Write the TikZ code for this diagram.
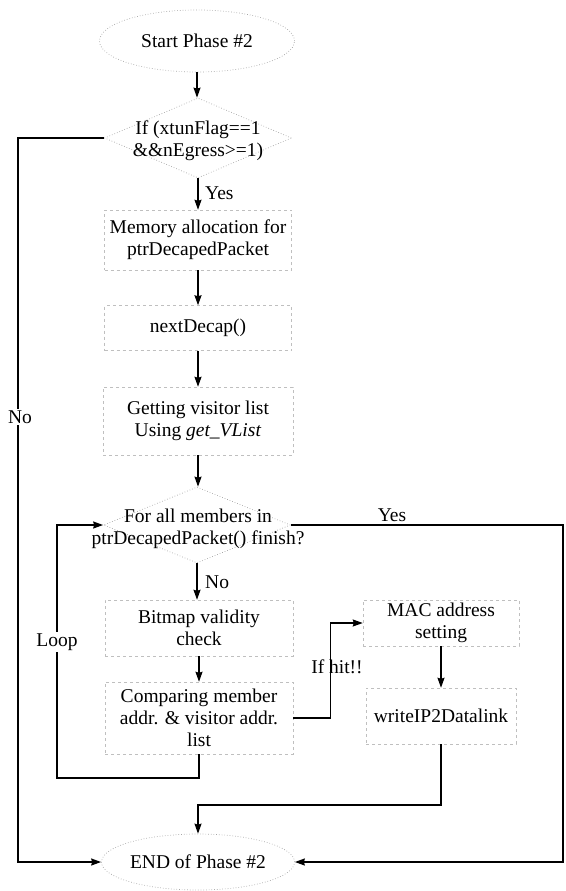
\documentclass[tikz,border=0pt]{standalone}
\usepackage{fontspec}
\setmainfont{Liberation Serif}
\usetikzlibrary{shapes.geometric,arrows.meta,calc}
\begin{document}
\begin{tikzpicture}[x=1pt,y=-1pt,
  every node/.style={font=\fontsize{19.5}{22}\selectfont, align=center, inner sep=0pt},
  term/.style={ellipse, draw=black!35, dotted, line width=0.7pt},
  dec/.style={diamond, draw=black!35, dotted, line width=0.7pt},
  box/.style={rectangle, draw=black!25, dashed, line width=0.5pt},
  conn/.style={line width=1.4pt, -{Stealth[length=10pt,width=7pt,inset=1pt]}},
  lbl/.style={fill=white, inner sep=2pt}
]
\useasboundingbox (0,0) rectangle (565,891);

\node[term, minimum width=195pt, minimum height=62pt] (start) at (197,41) {Start Phase \#2};
\node[dec, minimum width=187pt, minimum height=80pt] (d1) at (198,138) {};
\node (d1t) at (198,141) {If (xtunFlag==1\\\&\&nEgress>=1)};
\node[box, minimum width=187pt, minimum height=60pt] (mem) at (198,240) {Memory allocation for\\ptrDecapedPacket};
\node[box, minimum width=187pt, minimum height=45pt] (next) at (198,328) {nextDecap()};
\node[box, minimum width=190pt, minimum height=68pt] (getv) at (198,421) {Getting visitor list\\Using \textit{get\_VList}};
\node[dec, minimum width=187pt, minimum height=76pt] (d2) at (197,525) {};
\node (d2t) at (198,529) {For all members in\\ptrDecapedPacket() finish?};
\node[box, minimum width=188pt, minimum height=56pt] (bmp) at (199,628) {Bitmap validity\\check};
\node[box, minimum width=188pt, minimum height=72pt] (cmp) at (199,718) {Comparing member\\addr. \& visitor addr.\\list};
\node[box, minimum width=156pt, minimum height=46pt] (mac) at (441,623) {MAC address\\setting};
\node[box, minimum width=150pt, minimum height=56pt] (wr) at (441,716) {writeIP2Datalink};
\node[term, minimum width=193pt, minimum height=56pt] (end) at (198,862) {END of Phase \#2};

% main flow
\draw[conn] (start.south) -- (start.south |- d1.north);
\draw[conn] (d1.south) -- (d1.south |- mem.north);
\node[anchor=west] (yes1) at (205,193) {Yes};
\draw[conn] (mem.south) -- (mem.south |- next.north);
\draw[conn] (next.south) -- (next.south |- getv.north);
\draw[conn] (getv.south) -- (getv.south |- d2.north);
\draw[conn] (d2.south) -- (d2.south |- bmp.north);
\node[anchor=west] (no2) at (205,582) {No};
\draw[conn] (bmp.south) -- (bmp.south |- cmp.north);

% if hit
\draw[conn] (cmp.east) -- ++(37,0) |- (mac.west);
\node (hit) at (337,667) {If hit!!};
\draw[conn] (mac.south) -- (wr.north);

% loop back
\coordinate (lp) at (57,778);
\draw[conn] (cmp.south) |- (lp) |- (d2.west);
\node[lbl] (loop) at (57,642) {Loop};

% No branch of first decision
\coordinate (nl) at (18,862);
\draw[conn] (d1.west) -| (nl) -- (end.west);
\node[lbl] (no1) at (20,417) {No};

% Yes branch of loop decision
\coordinate (yr) at (563,862);
\draw[conn] (d2.east) -| (yr) -- (end.east);
\node[anchor=south, inner sep=1pt] (yes2) at (392,523) {Yes};

% write to end
\coordinate (wj) at (198,805);
\draw[conn] (wr.south) |- (wj) -- (end.north);
\end{tikzpicture}
\end{document}
